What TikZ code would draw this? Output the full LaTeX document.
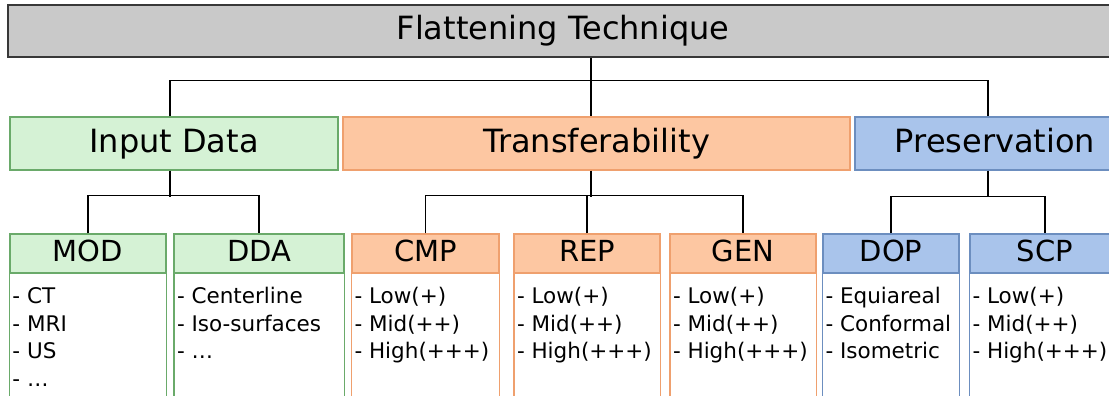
\documentclass[tikz,border=0pt]{standalone}
\usepackage{fontspec}
\setmainfont{DejaVu Sans}
\usetikzlibrary{calc}

\definecolor{greyfill}{HTML}{C9C9C9}
\definecolor{greyline}{HTML}{383838}
\definecolor{greenfill}{HTML}{D5F2D5}
\definecolor{greenline}{HTML}{6AAA6A}
\definecolor{orangefill}{HTML}{FDC7A2}
\definecolor{orangeline}{HTML}{EFA06E}
\definecolor{bluefill}{HTML}{A9C4EB}
\definecolor{blueline}{HTML}{6C8EBF}

% one leaf category: coloured header, open frame below, item list
% #1 name, #2 centre x, #3 width, #4 fill, #5 line, #6 title, #7 items
\newcommand\leafbox[7]{%
  \node[leafhead={#4}{#5}, minimum width=#3pt] (#1) at (#2,253.5) {#6};
  \draw[draw=#5, line width=1.4pt] (#1.north west) rectangle ($(#1.south east)+(0,200)$);
  \node[leaftext, anchor=north west] (#1-items) at ($(#1.south west)+(3,10.75)$) {#7};
}

\begin{document}
\begin{tikzpicture}[x=1pt,y=-1pt,
  conn/.style={draw=black, line width=1.5pt},
  titlebox/.style={draw=greyline, fill=greyfill, line width=2.8pt,
    minimum width=1110pt, minimum height=52pt, inner sep=0pt,
    text height=24pt, text depth=7pt,
    font=\fontsize{32}{38}\selectfont},
  catbox/.style 2 args={draw=#2, fill=#1, line width=1.4pt,
    minimum height=53pt, inner sep=0pt, text height=24pt, text depth=7pt,
    font=\fontsize{32}{38}\selectfont},
  leafhead/.style 2 args={draw=#2, fill=#1, line width=1.4pt,
    minimum height=39pt, inner sep=0pt, text height=21pt, text depth=5pt,
    font=\fontsize{29}{34}\selectfont},
  leaftext/.style={align=left, inner sep=0pt, font=\fontsize{21.5}{27.5}\selectfont}
]
\useasboundingbox (0,0) rectangle (1109,396);
\clip (0,0) rectangle (1109,396);
\fill[white] (0,0) rectangle (1109,396);

% root
\node[titlebox] (title) at (563,31) {Flattening Technique};

% categories
\node[catbox={greenfill}{greenline}, minimum width=328pt] (input) at (174,143.5) {Input Data};
\node[catbox={orangefill}{orangeline}, minimum width=507pt] (trans) at (596.5,143.5) {Transferability};
\node[catbox={bluefill}{blueline}, minimum width=280pt] (pres) at (995,143.5) {Preservation};

% leaves
\leafbox{mod}{88}{156}{greenfill}{greenline}{MOD}{\strut- CT\\- MRI\\- US\\- …}
\leafbox{dda}{259}{169}{greenfill}{greenline}{DDA}{\strut- Centerline\\- Iso-surfaces\\- …}
\leafbox{cmp}{425.5}{147}{orangefill}{orangeline}{CMP}{\strut- Low(+)\\- Mid(++)\\- High(+++)}
\leafbox{rep}{587}{145}{orangefill}{orangeline}{REP}{\strut- Low(+)\\- Mid(++)\\- High(+++)}
\leafbox{gen}{743}{145}{orangefill}{orangeline}{GEN}{\strut- Low(+)\\- Mid(++)\\- High(+++)}
\leafbox{dop}{891}{136}{bluefill}{blueline}{DOP}{\strut- Equiareal\\- Conformal\\- Isometric}
\leafbox{scp}{1045}{150}{bluefill}{blueline}{SCP}{\strut- Low(+)\\- Mid(++)\\- High(+++)}

% root to categories
\coordinate (tj) at ([xshift=-5.5pt]trans.north);
\draw[conn] (title.south -| tj) -- (tj);
\draw[conn] ([xshift=-4pt]input.north) -- ++(0,-36) -| ([xshift=-7pt]pres.north);

% categories to leaves
\draw[conn] ([xshift=-4pt]input.south) -- ++(0,26.5);
\draw[conn] (mod.north) -- ++(0,-38) -| (dda.north);
\draw[conn] ([xshift=-5.5pt]trans.south) -- ++(0,26.5);
\draw[conn] (cmp.north) -- ++(0,-38) -| (gen.north);
\draw[conn] (rep.north) -- ++(0,-38);
\draw[conn] ([xshift=-7pt]pres.south) -- ++(0,26.5);
\draw[conn] (dop.north) -- ++(0,-37) -| (scp.north);
\end{tikzpicture}
\end{document}
